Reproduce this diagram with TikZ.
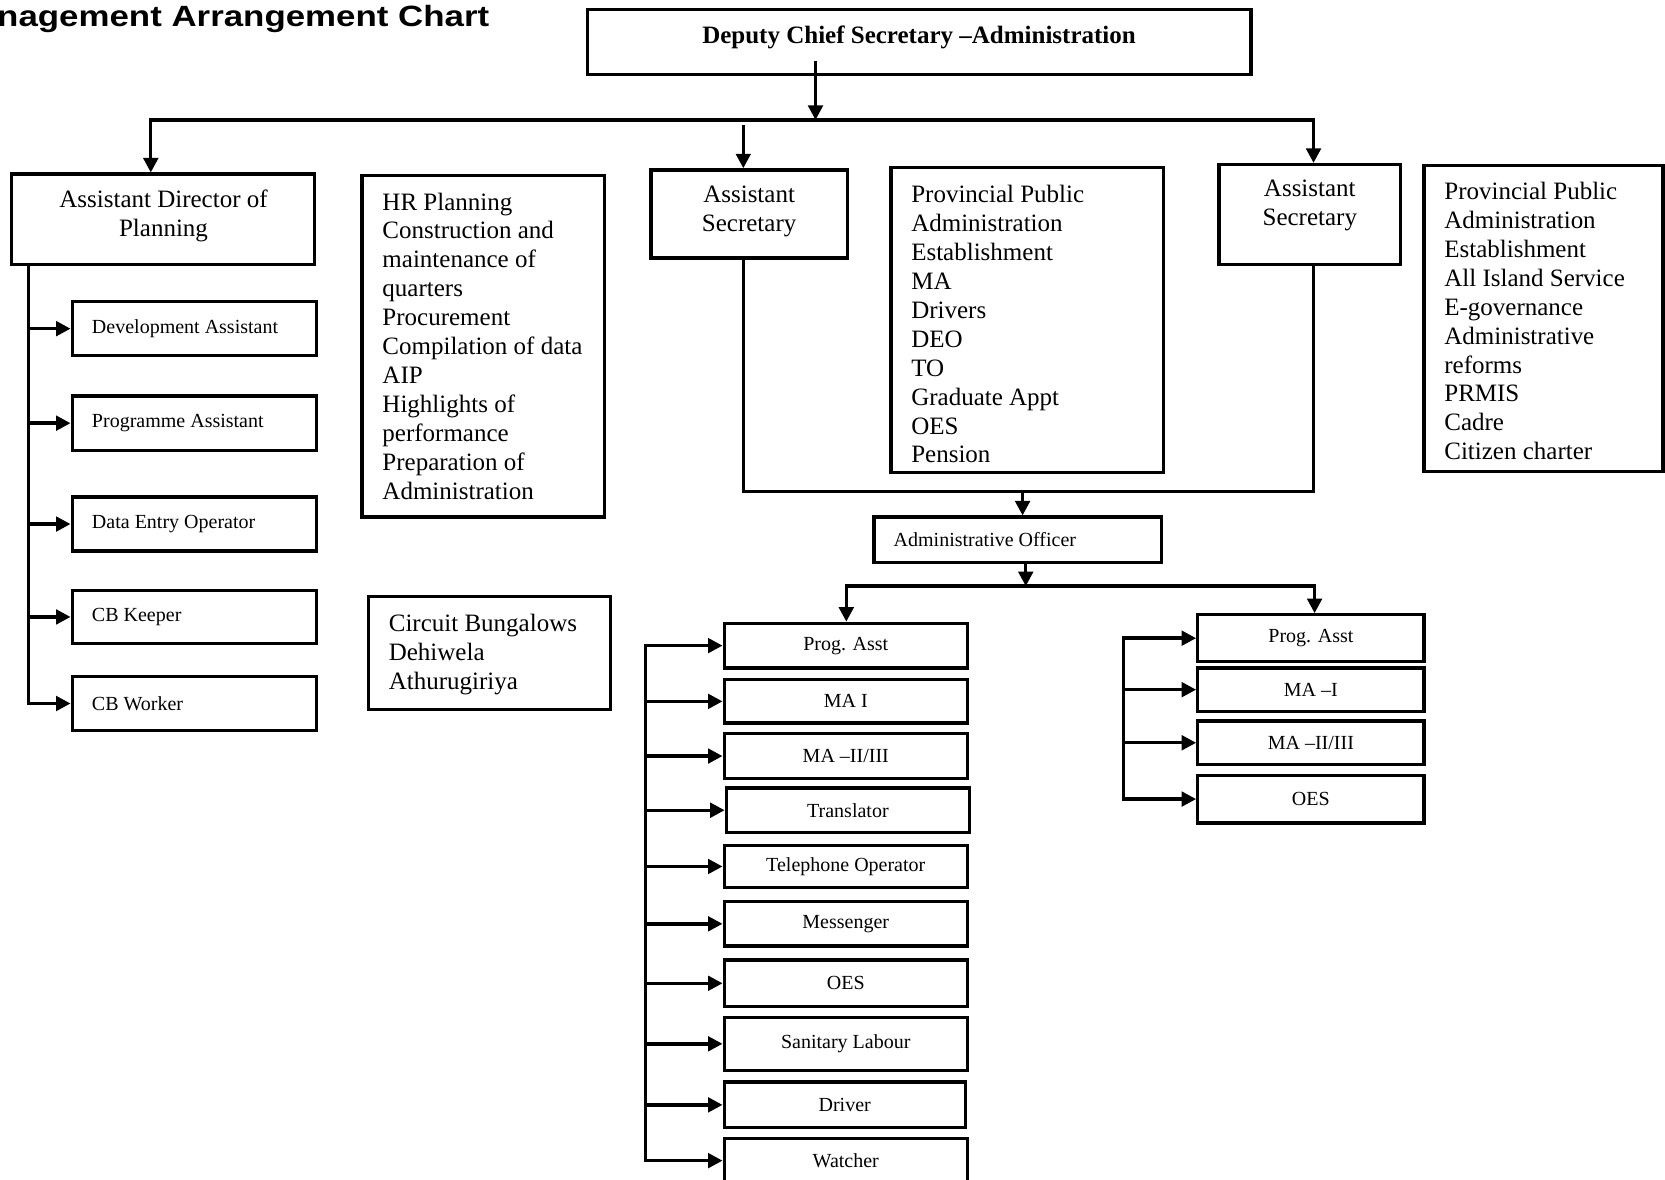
\documentclass[tikz,border=0pt]{standalone}
\usepackage{fontspec}
\setmainfont{Liberation Serif}
\newfontfamily\titlefont{Liberation Sans}[FakeStretch=1.19]
\usetikzlibrary{arrows.meta,calc}

\tikzset{
  box/.style={draw, rectangle, line width=3.3bp, inner sep=0pt},
  big/.style={font=\fontsize{25bp}{28.9bp}\selectfont},
  small/.style={font=\fontsize{20bp}{24bp}\selectfont},
  ln/.style={line width=3.4bp},
  arr/.style={line width=3.4bp, -{Triangle[length=14.5bp,width=14.5bp]}},
  ltxt/.style={inner sep=0pt, align=left, anchor=base west},
  stxt/.style={inner sep=0pt, anchor=west, small},
}
% a box given by its corners: [options]{name}{x1}{y1}{x2}{y2}{text}
\newcommand\orgbox[7][]{%
  \node[box, #1, minimum width={(#5-#3)*1.0619bp}, minimum height={(#6-#4)*1.0619bp}]
    (#2) at ({(#3+#5)/2},{(#4+#6)/2}) {#7};}

\begin{document}
\begin{tikzpicture}[x=1.0619bp, y=-1.0619bp]
\useasboundingbox (0,0) rectangle (1568,1111);

% heading
\node[inner sep=0pt, anchor=base east, font=\titlefont\bfseries\fontsize{29.3bp}{34bp}\selectfont] (title) at (461,25) {nagement Arrangement Chart};

% top level
\orgbox{dep}{553}{9}{1178}{70}{}
\node[inner sep=0pt, big] (dep-t) at (865.5,35) {\bfseries Deputy Chief Secretary –Administration};

% second level
\orgbox{adp}{11}{164}{296}{249}{}
\node[inner sep=0pt, big, align=center] (adp-t) at (154,203) {Assistant Director of\\Planning};
\orgbox{hr}{341}{165}{569}{487}{}
% multi-line texts are placed by the baseline of their last line
\node[ltxt, big] (hr-t) at (360,470) {HR Planning\\Construction and\\maintenance of\\quarters\\Procurement\\Compilation of data\\AIP\\Highlights of\\performance\\Preparation of\\Administration};
\orgbox{cb}{347}{562}{575}{668}{}
\node[ltxt, big] (cb-t) at (366,649) {Circuit Bungalows\\Dehiwela\\Athurugiriya};

\orgbox{as1}{613}{160}{798}{243}{}
\node[inner sep=0pt, big, align=center] (as1-t) at (705.5,199.5) {Assistant\\Secretary};
\orgbox{ppa1}{839}{158}{1096}{445}{}
\node[ltxt, big] (ppa1-t) at (858,436) {Provincial Public\\Administration\\Establishment\\MA\\Drivers\\DEO\\TO\\Graduate Appt\\OES\\Pension};

\orgbox{as2}{1148}{155}{1319}{249}{}
\node[inner sep=0pt, big, align=center] (as2-t) at (1233.5,193.5) {Assistant\\Secretary};
\orgbox{ppa2}{1341}{156}{1566}{444}{}
\node[ltxt, big] (ppa2-t) at (1360,433) {Provincial Public\\Administration\\Establishment\\All Island Service\\E-governance\\Administrative\\reforms\\PRMIS\\Cadre\\Citizen charter};

% planning staff
\orgbox{da}{68}{284}{298}{335}{}
\node[stxt] (da-t) at ($(da.west)+(20,0)$) {Development Assistant};
\orgbox{pa}{68}{373}{298}{424}{}
\node[stxt] (pa-t) at ($(pa.west)+(20,0)$) {Programme Assistant};
\orgbox{deo}{68}{468}{298}{519}{}
\node[stxt] (deo-t) at ($(deo.west)+(20,0)$) {Data Entry Operator};
\orgbox{cbk}{68}{556}{298}{606}{}
\node[stxt] (cbk-t) at ($(cbk.west)+(20,0)$) {CB Keeper};
\orgbox{cbw}{68}{637}{298}{688}{}
\node[stxt] (cbw-t) at ($(cbw.west)+(20,0)$) {CB Worker};

% administrative officer
\orgbox{ao}{823}{487}{1094}{530}{}
\node[stxt] (ao-t) at ($(ao.west)+(20,0)$) {Administrative Officer};

% staff under the administrative officer, left group
\orgbox[small]{l1}{682}{587}{911}{629}{Prog. Asst}
\orgbox[small]{l2}{682}{640}{911}{681}{MA I}
\orgbox[small]{l3}{682}{691}{911}{733}{MA –II/III}
\orgbox[small]{l4}{684}{742}{913}{784}{Translator}
\orgbox[small]{l5}{682}{796}{911}{836}{Telephone Operator}
\orgbox[small]{l6}{682}{849}{911}{891}{Messenger}
\orgbox[small]{l7}{682}{904}{911}{948}{OES}
\orgbox[small]{l8}{682}{958}{911}{1008}{Sanitary Labour}
\orgbox[small]{l9}{682}{1019}{909}{1062}{Driver}
\orgbox{l10}{682}{1072}{911}{1118}{}
\node[inner sep=0pt, small] (l10-t) at (796.5,1093) {Watcher};

% right group
\orgbox[small]{r1}{1128}{579}{1341}{623}{Prog. Asst}
\orgbox[small]{r2}{1128}{629}{1341}{670}{MA –I}
\orgbox[small]{r3}{1128}{679}{1341}{720}{MA –II/III}
\orgbox[small]{r4}{1128}{730}{1341}{775}{OES}

% connectors: top level
\coordinate (d0) at (768,57);
\coordinate (busL) at (142,113);
\coordinate (busR) at (1237,113);
\coordinate (m0) at (700,118);
\draw[ln, line cap=rect] (busL) -- (busR);
\draw[arr] (d0) -- (d0 |- busL);
\draw[arr] (busL) -- (busL |- adp.north);
\draw[arr] (m0) -- (m0 |- as1.north);
\draw[arr] (busR) -- (busR |- as2.north);

% planning branch
\coordinate (lt) at (27,249);
\draw[arr] (lt |- adp.south) -- (lt |- cbw.west) -- (cbw.west);
\foreach \b in {da,pa,deo,cbk}
  \draw[arr] (lt |- \b.west) -- (\b.west);

% assistant secretaries to administrative officer
\coordinate (jn) at (963,463);
\draw[ln] (m0 |- as1.south) -- (m0 |- jn) -- (busR |- jn) -- (busR |- as2.south);
\draw[arr] (jn) -- (jn |- ao.north);

% administrative officer to the two groups
\coordinate (bus2) at (966,552);
\coordinate (b2L) at (797,552);
\coordinate (b2R) at (1238,552);
\draw[arr] (bus2 |- ao.south) -- (bus2);
\draw[ln, line cap=rect] (b2L) -- (b2R);
\draw[arr] (b2L) -- (b2L |- l1.north);
\draw[arr] (b2R) -- (b2R |- r1.north);

% left group trunk
\coordinate (ct) at (608,600);
\draw[ln, line cap=rect] (ct |- l1.west) -- (ct |- l10-t);
\foreach \b in {l1,l2,l3,l4,l5,l6,l7,l8,l9}
  \draw[arr] (ct |- \b.west) -- (\b.west);
\draw[arr] (ct |- l10-t) -- (l10.west |- l10-t);

% right group trunk
\coordinate (rt) at (1058,600);
\draw[ln, line cap=rect] (rt |- r1.west) -- (rt |- r4.west);
\foreach \b in {r1,r2,r3,r4}
  \draw[arr] (rt |- \b.west) -- (\b.west);
\end{tikzpicture}
\end{document}
